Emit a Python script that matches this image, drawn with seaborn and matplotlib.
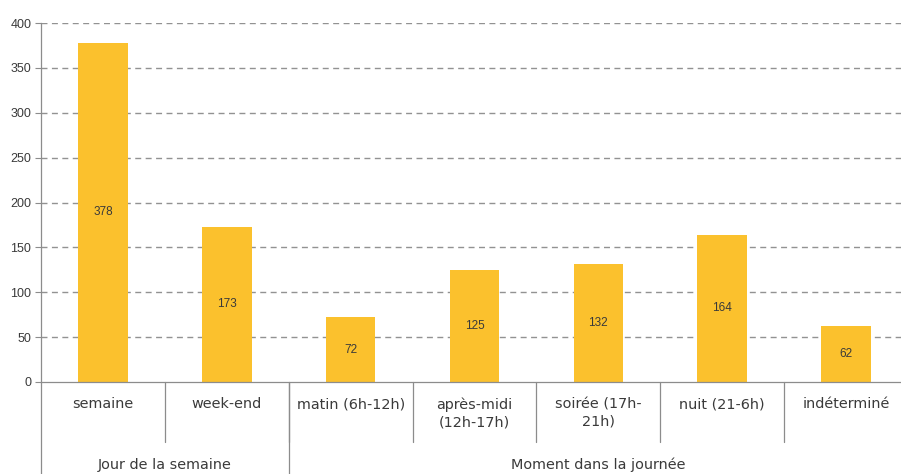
import matplotlib
matplotlib.use("Agg")
import matplotlib.pyplot as plt
import matplotlib.transforms as mtransforms
import seaborn as sns
import pandas as pd

# Data
categories = ["semaine", "week-end", "matin (6h-12h)", "après-midi\n(12h-17h)",
              "soirée (17h-\n21h)", "nuit (21-6h)", "indéterminé"]
values = [378, 173, 72, 125, 132, 164, 62]
groups = ["Jour de la semaine", "Moment dans la journée"]
group_sizes = [2, 5]
y_ticks = [0, 50, 100, 150, 200, 250, 300, 350, 400]

bar_color = "#FBC12D"
grey = "#8c8c8c"
text_color = "#3a3a3a"

sns.set_theme(style="white")
plt.rcParams["font.family"] = ["DejaVu Sans"]

fig = plt.figure(figsize=(9.01, 4.74), dpi=100)
ax = fig.add_axes([41 / 901, 1 - 382 / 474, 867 / 901, 359 / 474])

df = pd.DataFrame({"cat": categories, "val": values})
sns.barplot(data=df, x="cat", y="val", color=bar_color, saturation=1,
            width=0.40, linewidth=0, ax=ax, zorder=2)

ax.set_xlim(-0.5, len(categories) - 0.5)
ax.set_ylim(0, 400)
ax.set_yticks(y_ticks)
ax.set_yticklabels([str(t) for t in y_ticks], fontsize=9,
                   family="Liberation Sans", color=text_color)
ax.tick_params(axis="y", length=4, width=0.8, color=grey, pad=3, left=True)
ax.set_xticks([])
ax.set_xlabel("")
ax.set_ylabel("")

# Dashed horizontal gridlines
for t in y_ticks[1:]:
    ax.axhline(t, color="#929292", lw=1.0, ls=(0, (4.3, 3.2)), zorder=0)

for side in ["top", "right"]:
    ax.spines[side].set_visible(False)
ax.spines["left"].set_color(grey)
ax.spines["bottom"].set_color(grey)
ax.spines["left"].set_linewidth(0.9)
ax.spines["bottom"].set_linewidth(0.9)

# Value labels at mid-height of each bar
for p in ax.patches:
    h = p.get_height()
    ax.text(p.get_x() + p.get_width() / 2, h / 2, f"{h:.0f}",
            ha="center", va="center", fontsize=8.5,
            family="Liberation Sans", color=text_color, zorder=3)

# Hierarchical category axis below the plot
trans = mtransforms.blended_transform_factory(ax.transData, ax.transAxes)
px = 1 / 359.0
cat_bottom = -60 * px
grp_bottom = -95 * px

for i, lab in enumerate(categories):
    ax.text(i, -15 * px, lab, transform=trans, ha="center", va="top",
            fontsize=10.4, color=text_color, linespacing=1.35, clip_on=False)

# separators between categories
for i in range(len(categories)):
    ax.plot([i + 0.5, i + 0.5], [0, cat_bottom], transform=trans,
            color=grey, lw=0.9, clip_on=False)

# group boundaries and labels
start = 0
ax.plot([-0.5, -0.5], [0, grp_bottom], transform=trans, color=grey,
        lw=0.9, clip_on=False)
for g, n in zip(groups, group_sizes):
    end = start + n
    ax.plot([end - 0.5, end - 0.5], [0, grp_bottom], transform=trans,
            color=grey, lw=0.9, clip_on=False)
    ax.text((start + end - 1) / 2, -83 * px, g, transform=trans,
            ha="center", va="center", fontsize=10.4, color=text_color,
            clip_on=False)
    start = end

fig.savefig("out.png", dpi=100)
